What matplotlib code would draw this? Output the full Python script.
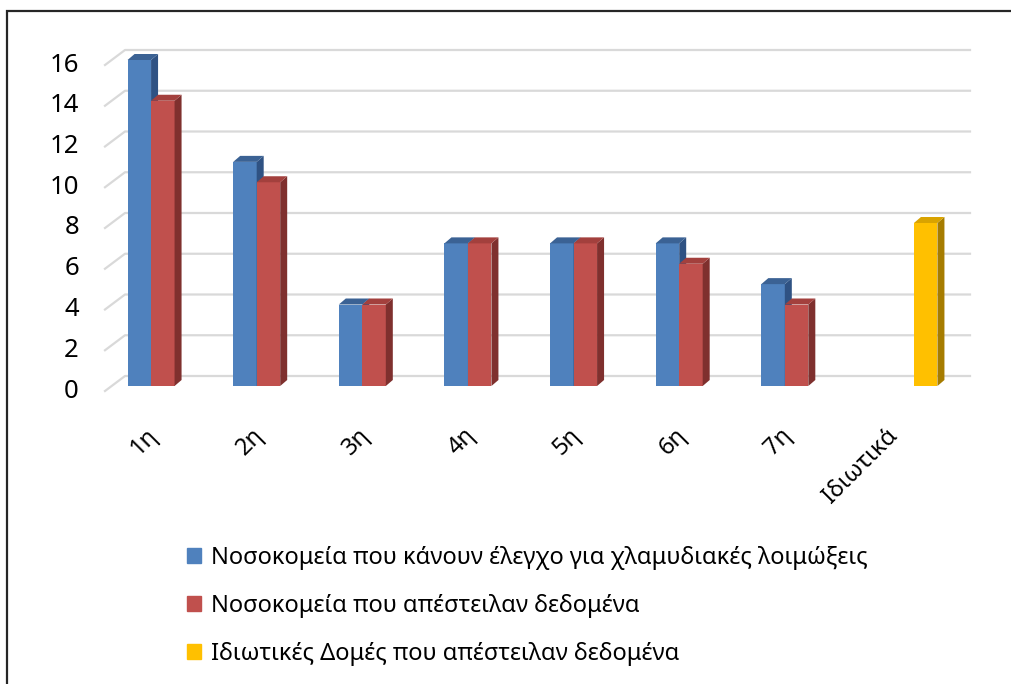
import numpy as np
import matplotlib.pyplot as plt
import matplotlib.transforms as mtransforms
from matplotlib.patches import Polygon, Patch, Rectangle
from matplotlib.lines import Line2D

plt.rcParams['font.family'] = ['Noto Sans', 'DejaVu Sans']

# data
categories = ['1η', '2η', '3η', '4η', '5η', '6η', '7η', 'Ιδιωτικά']
tested = [16, 11, 4, 7, 7, 7, 5, 0]
sent = [14, 10, 4, 7, 7, 6, 4, 0]
private = [0, 0, 0, 0, 0, 0, 0, 8]
labels = ['Νοσοκομεία που κάνουν έλεγχο για χλαμυδιακές λοιμώξεις',
          'Νοσοκομεία που απέστειλαν δεδομένα',
          'Ιδιωτικές Δομές που απέστειλαν δεδομένα']
yticks = np.arange(0, 17, 2)

W, H = 1012, 684
fig = plt.figure(figsize=(W / 100, H / 100), dpi=100)
ax = fig.add_axes([110 / W, 1 - 386 / H, 845 / W, 326 / H])
ax.set_xlim(-0.5, 7.5)
ax.set_ylim(0, 16)
for s in ax.spines.values():
    s.set_visible(False)
ax.set_yticks([])

ident = mtransforms.IdentityTransform()
fs = 17

def disp(x, y, dx=0, dy=0):
    p = ax.transData.transform((x, y))
    return (p[0] + dx, p[1] + dy)

# "3d" walls: front edge and back wall offsets in pixels
front = (-5, -5)
back = (15, 10)
x0, x1 = ax.get_xlim()
for v in yticks:
    p1 = disp(x0, v, *front)
    p2 = disp(x0, v, *back)
    p3 = disp(x1, v, *back)
    ax.add_artist(Line2D([p1[0], p2[0], p3[0]], [p1[1], p2[1], p3[1]],
                         transform=ident, color='#d9d9d9', lw=1.6,
                         clip_on=False, zorder=1))
    # tick labels sit on the front edge
    ax.text(p1[0] - 26, p1[1], str(v), transform=ident, ha='right',
            va='center', fontsize=18.5, color='black')

w = 0.2225
depth = (7, 6)
series = [
    (tested, -w, '#4f81bd', '#3b6294', '#2f5283'),
    (sent, 0, '#c0504d', '#a3403d', '#7f302e'),
    (private, w, '#ffc000', '#d9a300', '#a67c00'),
]
x = np.arange(len(categories))
for k, (vals, off, c, ctop, cside) in enumerate(series):
    z = 3 + k
    bars = ax.bar(x + off, vals, w, color=c, lw=0, zorder=z)
    for b in bars:
        h = b.get_height()
        if h <= 0:
            continue
        bx0, bx1 = b.get_x(), b.get_x() + b.get_width()
        side = [disp(bx1, 0), disp(bx1, h), disp(bx1, h, *depth), disp(bx1, 0, *depth)]
        top = [disp(bx0, h), disp(bx1, h), disp(bx1, h, *depth), disp(bx0, h, *depth)]
        ax.add_artist(Polygon(side, closed=True, transform=ident, fc=cside,
                              lw=0, clip_on=False, zorder=z))
        ax.add_artist(Polygon(top, closed=True, transform=ident, fc=ctop,
                              lw=0, clip_on=False, zorder=z))

ax.set_xticks(x, categories, rotation=45, ha='right', va='top',
              rotation_mode='default', fontsize=fs)
ax.tick_params(axis='x', length=0, pad=27)

handles = [Patch(color=s[2]) for s in series]
fig.legend(handles, labels, loc='upper left',
           bbox_to_anchor=(187 / W, 1 - 546 / H), frameon=False,
           fontsize=fs, handlelength=0.6, handleheight=0.6,
           handletextpad=0.4, labelspacing=1.02, borderpad=0,
           borderaxespad=0)

# chart border (cut off at the right and bottom)
fig.add_artist(Rectangle((7 / W, -0.5), 2, 1.5 - 11 / H, fill=False,
                         ec='#262626', lw=1.6, transform=fig.transFigure))

fig.savefig('out.png', dpi=100)
